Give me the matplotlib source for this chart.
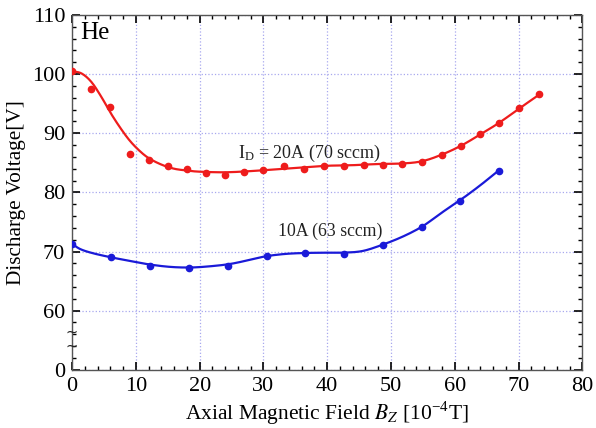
import matplotlib

matplotlib.use("Agg")
import matplotlib.pyplot as plt
import numpy as np
from matplotlib.ticker import MultipleLocator, FixedLocator

plt.rcParams["font.family"] = ["Liberation Serif", "DejaVu Serif"]
plt.rcParams["mathtext.fontset"] = "stix"

# measured discharge voltage, 20 A (70 sccm)
bz_20a = [0, 3, 6, 9, 12, 15, 18, 21, 24, 27, 30, 33.3, 36.4, 39.5, 42.6,
          45.7, 48.8, 51.8, 54.9, 58.0, 61.0, 64.0, 67.0, 70.1, 73.2]
vd_20a = [100.6, 97.5, 94.4, 86.5, 85.4, 84.5, 83.9, 83.3, 83.0, 83.4, 83.8,
          84.4, 84.0, 84.4, 84.4, 84.6, 84.6, 84.8, 85.1, 86.4, 87.9, 89.8,
          91.8, 94.2, 96.6]

# measured discharge voltage, 10 A (63 sccm)
bz_10a = [0, 6.1, 12.2, 18.3, 24.4, 30.5, 36.5, 42.6, 48.7, 54.8, 60.9, 67.0]
vd_10a = [71.2, 69.0, 67.6, 67.2, 67.6, 69.2, 69.7, 69.5, 71.1, 74.2, 78.5, 83.7]

# fitted trend lines
fit_x_20a = [0, 1.5, 3, 4.5, 6, 7.5, 9, 10.5, 12, 14, 16, 18, 20, 24, 28, 32,
             36, 40, 44, 48, 52, 55, 58, 61, 64, 67, 70, 73.2]
fit_y_20a = [100.5, 100.1, 98.7, 96.3, 93.5, 91.0, 88.8, 87.1, 85.8, 84.7,
             84.0, 83.7, 83.5, 83.4, 83.6, 83.9, 84.2, 84.5, 84.6, 84.8, 84.9,
             85.3, 86.4, 87.9, 89.8, 91.8, 94.1, 96.5]
fit_x_10a = [0, 1.3, 3.3, 6.2, 9.1, 12.2, 15.4, 18.5, 21.6, 24.8, 27.9, 30.4,
             33.5, 36.5, 39.5, 42.5, 45.6, 48.8, 52, 55, 58, 61, 64, 67]
fit_y_10a = [71.3, 70.4, 69.7, 69.0, 68.4, 67.8, 67.4, 67.3, 67.5, 67.9, 68.6,
             69.2, 69.6, 69.75, 69.8, 69.8, 70.1, 71.2, 72.6, 74.3, 76.6, 78.8,
             81.2, 83.8]

y_ticks = [50, 60, 70, 80, 90, 100, 110]
y_tick_labels = ["0", "60", "70", "80", "90", "100", "110"]
break_marks = [56.3, 54.0]


def smooth(xs, ys, n=12):
    """Catmull-Rom path through the given points."""
    p = np.column_stack([xs, ys]).astype(float)
    p = np.vstack([p[0] * 2 - p[1], p, p[-1] * 2 - p[-2]])
    out = []
    t = np.linspace(0, 1, n, endpoint=False)[:, None]
    for i in range(1, len(p) - 2):
        p0, p1, p2, p3 = p[i - 1], p[i], p[i + 1], p[i + 2]
        seg = 0.5 * (2 * p1 + (-p0 + p2) * t
                     + (2 * p0 - 5 * p1 + 4 * p2 - p3) * t ** 2
                     + (-p0 + 3 * p1 - 3 * p2 + p3) * t ** 3)
        out.append(seg)
    out.append(p[-2][None, :])
    out = np.vstack(out)
    return out[:, 0], out[:, 1]


red = "#ee1c1c"
blue = "#1a1ad8"

fig = plt.figure(figsize=(5.96, 4.28), dpi=100)
ax = fig.add_axes([0.121, 0.136, 0.856, 0.829])

ax.plot(*smooth(fit_x_20a, fit_y_20a), color=red, lw=1.6, zorder=3)
ax.plot(bz_20a, vd_20a, "o", color=red, ms=4.5, zorder=4)
ax.plot(*smooth(fit_x_10a, fit_y_10a), color=blue, lw=1.6, zorder=3)
ax.plot(bz_10a, vd_10a, "o", color=blue, ms=4.5, zorder=4)

ax.set_xlim(0, 80)
ax.set_ylim(50, 110)
ax.xaxis.set_major_locator(MultipleLocator(10))
ax.xaxis.set_minor_locator(MultipleLocator(2))
ax.yaxis.set_major_locator(FixedLocator(y_ticks))
ax.yaxis.set_minor_locator(MultipleLocator(2))
ax.set_yticklabels(y_tick_labels)

ax.tick_params(which="both", direction="in", top=True, right=True,
               labelsize=16, pad=5)
ax.tick_params(which="major", length=6, width=1.2)
ax.tick_params(which="minor", length=3, width=1.0)
for spine in ax.spines.values():
    spine.set_color("#555555")
    spine.set_linewidth(1.0)

ax.grid(True, which="major", linestyle=":", color="#a8a8ee", linewidth=0.9)
ax.set_axisbelow(True)

# axis break marks on the left spine
for yb in break_marks:
    ax.text(0, yb, "~", ha="center", va="center", fontsize=10.5,
            family="DejaVu Sans", color="#222222", zorder=5, clip_on=False)

ax.text(1.2, 107.0, "He", fontsize=18, ha="left", va="center")
ax.text(26, 86.6, r"$\mathregular{I_D}$ = 20A (70 sccm)", fontsize=13,
        ha="left", va="center", color="#222222")
ax.text(32.3, 73.4, "10A (63 sccm)", fontsize=12.8, ha="left", va="center",
        color="#222222")

ax.set_ylabel("Discharge Voltage[V]", fontsize=15.3, labelpad=4)
ax.set_xlabel(r"Axial Magnetic Field $B_Z$ [10$^{\mathregular{-4}}$T]",
              fontsize=15.5, labelpad=3)

fig.savefig("out.png", dpi=100)
